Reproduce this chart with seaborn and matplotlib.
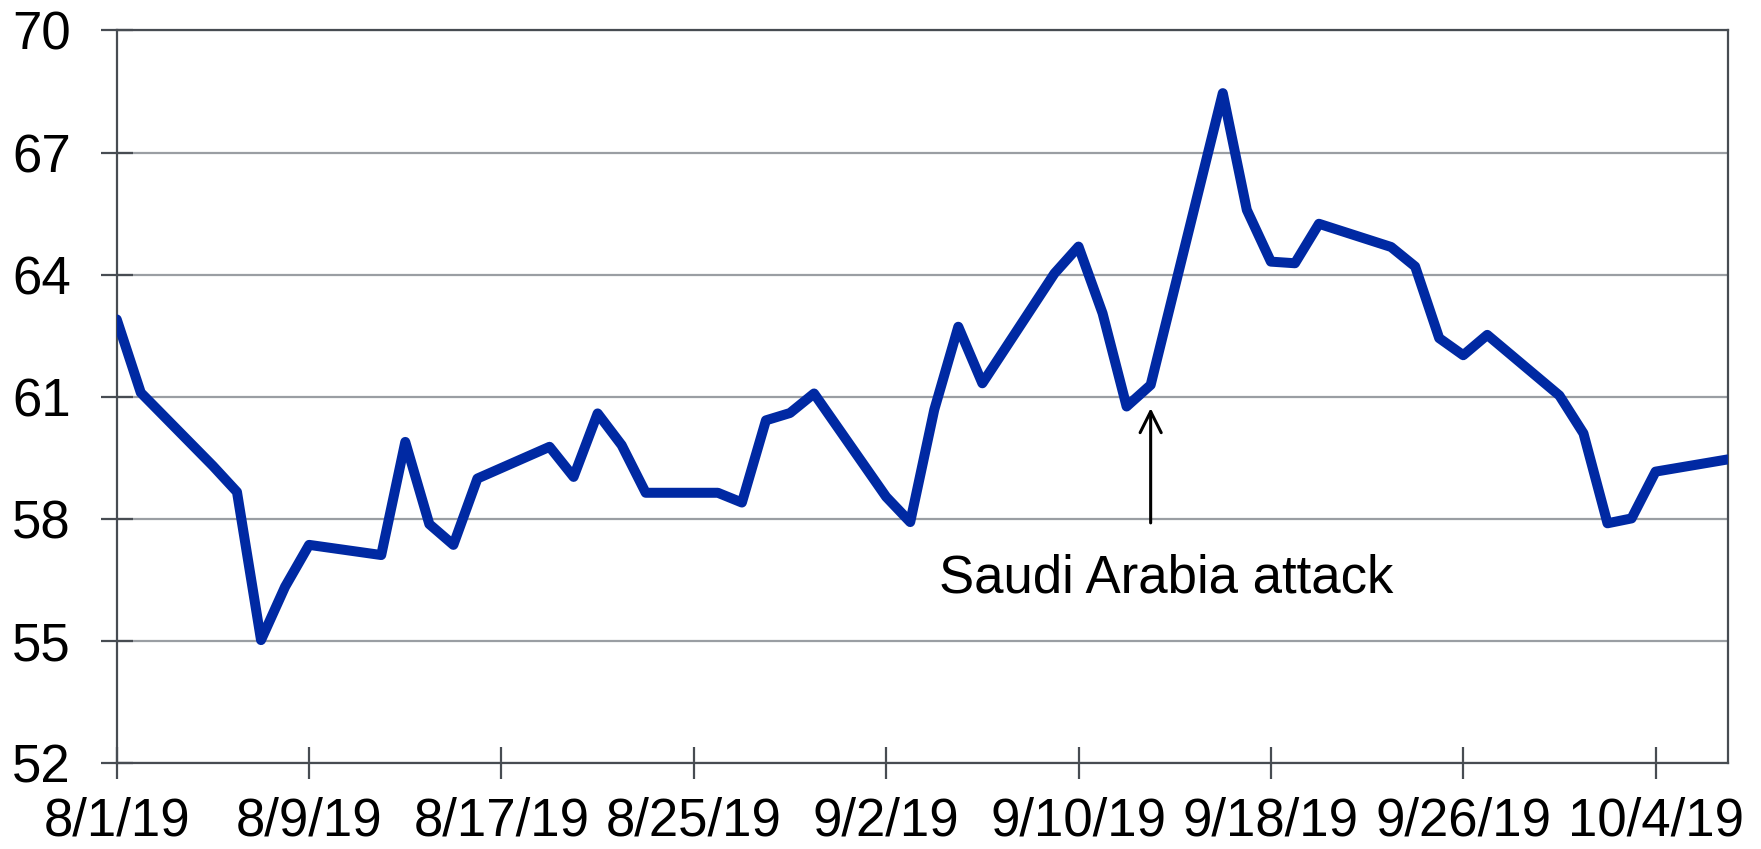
import pandas as pd
import matplotlib
matplotlib.use('Agg')
import matplotlib.pyplot as plt
import matplotlib.dates as mdates
import seaborn as sns

# Data
dates = ['2019-08-01', '2019-08-02', '2019-08-05', '2019-08-06', '2019-08-07', '2019-08-08',
         '2019-08-09', '2019-08-12', '2019-08-13', '2019-08-14', '2019-08-15', '2019-08-16',
         '2019-08-19', '2019-08-20', '2019-08-21', '2019-08-22', '2019-08-23', '2019-08-26',
         '2019-08-27', '2019-08-28', '2019-08-29', '2019-08-30', '2019-09-02', '2019-09-03',
         '2019-09-04', '2019-09-05', '2019-09-06', '2019-09-09', '2019-09-10', '2019-09-11',
         '2019-09-12', '2019-09-13', '2019-09-16', '2019-09-17', '2019-09-18', '2019-09-19',
         '2019-09-20', '2019-09-23', '2019-09-24', '2019-09-25', '2019-09-26', '2019-09-27',
         '2019-09-30', '2019-10-01', '2019-10-02', '2019-10-03', '2019-10-04', '2019-10-07']
values = [62.9, 61.1, 59.3, 58.66, 55.02, 56.33,
          57.36, 57.11, 59.89, 57.87, 57.36, 58.99,
          59.77, 59.03, 60.59, 59.81, 58.64, 58.64,
          58.4, 60.42, 60.6, 61.08, 58.54, 57.92,
          60.68, 62.72, 61.33, 64.03, 64.69, 63.05,
          60.76, 61.29, 68.46, 65.59, 64.32, 64.28,
          65.25, 64.68, 64.2, 62.44, 62.02, 62.52,
          61.03, 60.1, 57.89, 58.01, 59.16, 59.46]
y_ticks = [52, 55, 58, 61, 64, 67, 70]
x_tick_dates = ['2019-08-01', '2019-08-09', '2019-08-17', '2019-08-25', '2019-09-02',
                '2019-09-10', '2019-09-18', '2019-09-26', '2019-10-04']
x_tick_labels = ['8/1/19', '8/9/19', '8/17/19', '8/25/19', '9/2/19',
                 '9/10/19', '9/18/19', '9/26/19', '10/4/19']
annotation = 'Saudi Arabia attack'

df = pd.DataFrame({'date': pd.to_datetime(dates), 'value': values})

sns.set_style('white')
plt.rcParams['font.family'] = ['Liberation Sans', 'DejaVu Sans']

spine_col = '#474c52'
grid_col = '#9a9ea3'

fig = plt.figure(figsize=(17.61, 8.49), dpi=100)
ax = fig.add_axes([0.0663, 0.1013, 0.9148, 0.8628])

ax.yaxis.grid(True, color=grid_col, lw=1.6, zorder=0)
ax.set_axisbelow(True)

sns.lineplot(data=df, x='date', y='value', color='#0029a3', lw=7.2, ax=ax,
             solid_joinstyle='round', solid_capstyle='round', zorder=3)

ax.set_xlim(pd.Timestamp('2019-08-01'), pd.Timestamp('2019-10-07'))
ax.set_ylim(52, 70)
ax.set_yticks(y_ticks)
ax.set_xticks(pd.to_datetime(x_tick_dates))
ax.set_xticklabels(x_tick_labels)
ax.set_xlabel('')
ax.set_ylabel('')

for s in ax.spines.values():
    s.set_color(spine_col)
    s.set_linewidth(1.6)
    s.set_visible(True)

ax.tick_params(axis='both', direction='inout', length=23, width=1.6, color=spine_col,
               labelsize=38, labelcolor='black', bottom=True, left=True)
ax.tick_params(axis='y', pad=21.5)
ax.tick_params(axis='x', pad=12.5)

# arrow to the 9/13 point and label
x_evt = mdates.date2num(pd.Timestamp('2019-09-13'))
ax.annotate('', xy=(x_evt, 60.72), xytext=(x_evt, 57.9),
            arrowprops=dict(arrowstyle='->', lw=2.2, color='black',
                            mutation_scale=38, shrinkA=0, shrinkB=0))
ax.text(x_evt + 0.64, 56.2, annotation, fontsize=38, ha='center', va='baseline',
        color='black')

plt.savefig('out.png', dpi=100)
